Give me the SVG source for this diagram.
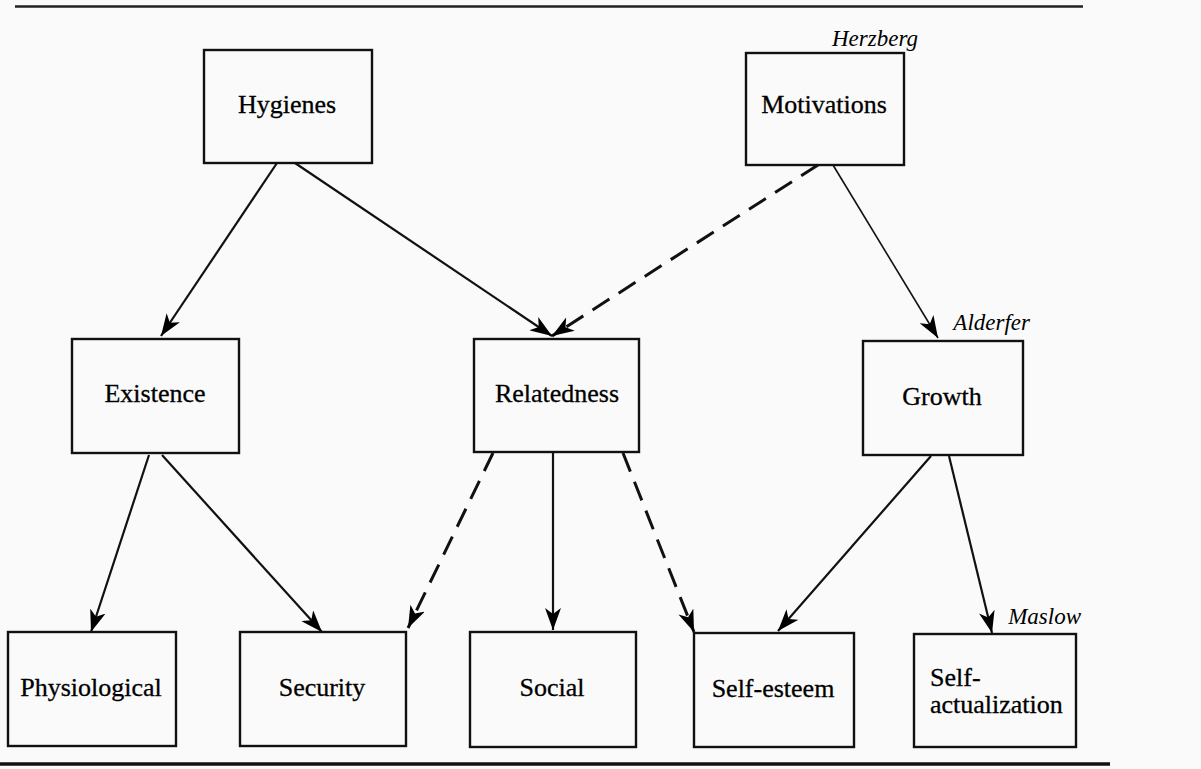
<svg xmlns="http://www.w3.org/2000/svg" width="1201" height="769" viewBox="0 0 1201 769">
<defs>
<marker id="arr" markerUnits="userSpaceOnUse" markerWidth="22" markerHeight="16" refX="22" refY="8" orient="auto">
<path d="M0,0 L22,8 L0,16 L6,8 z" fill="#000"/>
</marker>
<style>
.box{fill:none;stroke:#111;stroke-width:2.4}
.lbl{font-family:"Liberation Serif","Times New Roman",serif;font-size:26px;fill:#000;stroke:#000;stroke-width:0.3;text-anchor:middle}
.lbll{font-family:"Liberation Serif","Times New Roman",serif;font-size:26px;fill:#000;stroke:#000;stroke-width:0.3}
.auth{font-family:"Liberation Serif","Times New Roman",serif;font-size:23px;font-style:italic;fill:#000;text-anchor:end}
.solid{stroke:#111;stroke-width:2.2;fill:none;marker-end:url(#arr)}
.thin{stroke:#111;stroke-width:1.6;fill:none;marker-end:url(#arr)}
.dash{stroke:#111;stroke-width:3;fill:none;stroke-dasharray:20 11;marker-end:url(#arr)}
</style>
</defs>
<rect width="1201" height="769" fill="#fafafa"/>
<line x1="15" y1="6.5" x2="1083" y2="6.5" stroke="#222" stroke-width="2.5"/>
<line x1="0" y1="764" x2="1110" y2="764" stroke="#111" stroke-width="3.5"/>

<g id="connectors">
<line class="solid" x1="277" y1="163" x2="161" y2="336"/>
<line class="solid" x1="295" y1="163" x2="552" y2="336"/>
<line class="dash" x1="818" y1="165" x2="552" y2="336"/>
<line class="thin" x1="833" y1="165" x2="938" y2="338"/>
<line class="solid" x1="149" y1="455" x2="91" y2="632"/>
<line class="solid" x1="162" y1="455" x2="322" y2="632"/>
<line class="dash" x1="493" y1="453" x2="408" y2="628"/>
<line class="solid" x1="553" y1="453" x2="553" y2="630"/>
<line class="dash" x1="623" y1="453" x2="694" y2="632"/>
<line class="solid" x1="931" y1="456" x2="778" y2="631"/>
<line class="solid" x1="949" y1="456" x2="992" y2="633"/>
</g>

<g id="hygienes">
<rect class="box" x="204" y="50" width="168" height="113"/>
<text class="lbl" x="287" y="113">Hygienes</text>
</g>
<g id="motivations">
<rect class="box" x="746" y="53" width="158" height="112"/>
<text class="lbl" x="824" y="113">Motivations</text>
<text class="auth" x="918" y="46">Herzberg</text>
</g>
<g id="existence">
<rect class="box" x="72" y="339" width="167" height="114"/>
<text class="lbl" x="155" y="402">Existence</text>
</g>
<g id="relatedness">
<rect class="box" x="474" y="339" width="165" height="113"/>
<text class="lbl" x="557" y="402">Relatedness</text>
</g>
<g id="growth">
<rect class="box" x="863" y="341" width="160" height="114"/>
<text class="lbl" x="942" y="405">Growth</text>
<text class="auth" x="1030" y="330">Alderfer</text>
</g>
<g id="physiological">
<rect class="box" x="8" y="632" width="168" height="114"/>
<text class="lbl" x="91" y="696">Physiological</text>
</g>
<g id="security">
<rect class="box" x="240" y="632" width="166" height="114"/>
<text class="lbl" x="322" y="696">Security</text>
</g>
<g id="social">
<rect class="box" x="470" y="632" width="166" height="115"/>
<text class="lbl" x="552" y="696">Social</text>
</g>
<g id="self-esteem">
<rect class="box" x="694" y="633" width="160" height="114"/>
<text class="lbl" x="773" y="697">Self-esteem</text>
</g>
<g id="self-actualization">
<rect class="box" x="914" y="634" width="162" height="113"/>
<text class="lbll" x="930" y="686">Self-</text>
<text class="lbll" x="930" y="713">actualization</text>
<text class="auth" x="1081" y="624">Maslow</text>
</g>
</svg>
